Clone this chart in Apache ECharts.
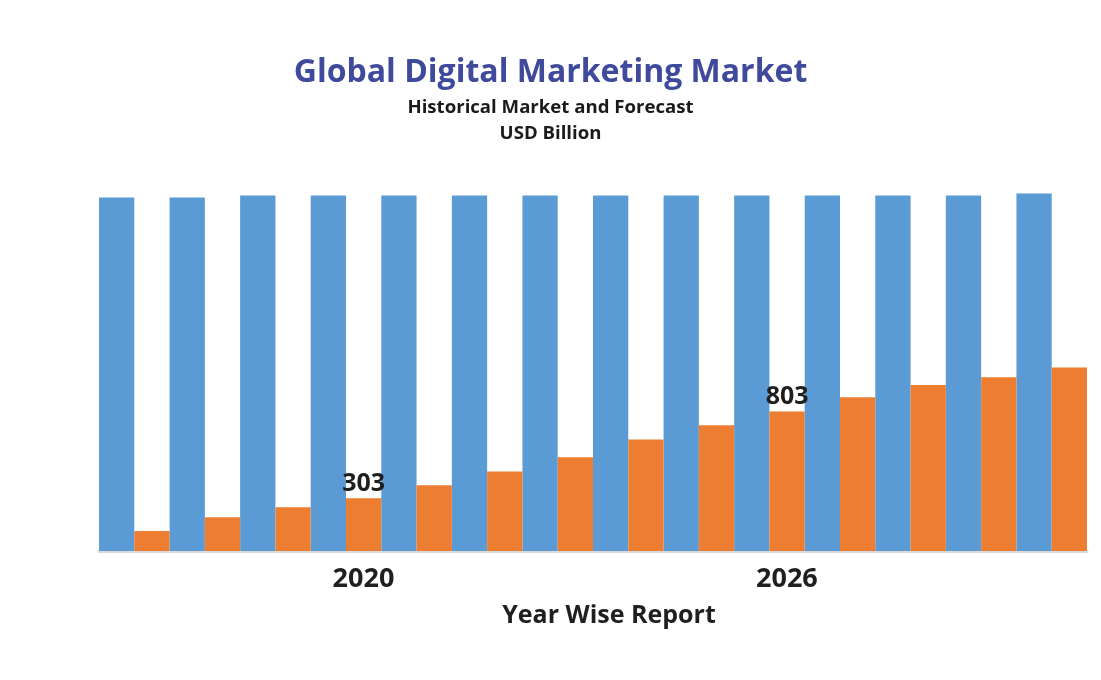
<!DOCTYPE html>
<html>
<head>
<meta charset="utf-8">
<style>html,body{margin:0;padding:0;background:#fff;}#c{width:1101px;height:680px;}</style>
<script src="https://cdn.jsdelivr.net/npm/echarts@6/dist/echarts.min.js"></script>
</head>
<body>
<div id="c"></div>
<script>
const years = ['2017','2018','2019','2020','2021','2022','2023','2024','2025','2026','2027','2028','2029','2030'];
const blueValues = [2034, 2034, 2045, 2045, 2045, 2045, 2045, 2045, 2045, 2045, 2045, 2045, 2045, 2057];
const orangeValues = [115, 194, 251, 303, 378, 458, 539, 642, 723, 803, 884, 955, 999, 1056];
const labelledYears = ['2020', '2026'];

const FONT = '"Open Sans", "Noto Sans", sans-serif';
const chart = echarts.init(document.getElementById('c'), null, {renderer: 'canvas'});
chart.setOption({
  animation: false,
  backgroundColor: '#ffffff',
  title: [
    {text: 'Global Digital Marketing Market', left: 'center', top: 52,
     textStyle: {fontFamily: FONT, fontSize: 32, fontWeight: 'bold', color: '#3F4A9C'}},
    {text: 'Historical Market and Forecast', left: 'center', top: 93,
     textStyle: {fontFamily: FONT, fontSize: 18.6, fontWeight: 'bold', color: '#1a1a1a'}},
    {text: 'USD Billion', left: 'center', top: 119,
     textStyle: {fontFamily: FONT, fontSize: 18.6, fontWeight: 'bold', color: '#1a1a1a'}}
  ],
  grid: {left: 99, width: 988, top: 186, height: 365},
  xAxis: {
    type: 'category',
    data: years,
    offset: 3,
    axisLine: {show: true, lineStyle: {color: '#D9D9D9', width: 3}},
    axisTick: {show: false},
    axisLabel: {
      interval: (i, v) => labelledYears.includes(v),
      fontFamily: FONT, fontSize: 27, fontWeight: 'bold', color: '#1f1f1f',
      margin: 12, padding: [0, 0, 0, 35]
    },
    name: 'Year Wise Report',
    nameLocation: 'middle',
    nameGap: 49,
    nameTextStyle: {fontFamily: FONT, fontSize: 25, fontWeight: 'bold', color: '#1f1f1f',
      padding: [0, 0, 0, 32]}
  },
  yAxis: {
    type: 'value', min: 0, max: 2100,
    show: false, splitLine: {show: false}
  },
  series: [
    {type: 'bar', data: blueValues, barGap: '0%', barCategoryGap: '0%',
     itemStyle: {color: '#5B9BD5'}},
    {type: 'bar', data: orangeValues, barGap: '0%', barCategoryGap: '0%',
     itemStyle: {color: '#ED7D31'},
     label: {show: true, position: 'top', distance: 2,
       formatter: p => labelledYears.includes(p.name) ? String(p.value) : '',
       fontFamily: FONT, fontSize: 25, fontWeight: 'bold', color: '#1f1f1f'}}
  ]
});
</script>
</body>
</html>
